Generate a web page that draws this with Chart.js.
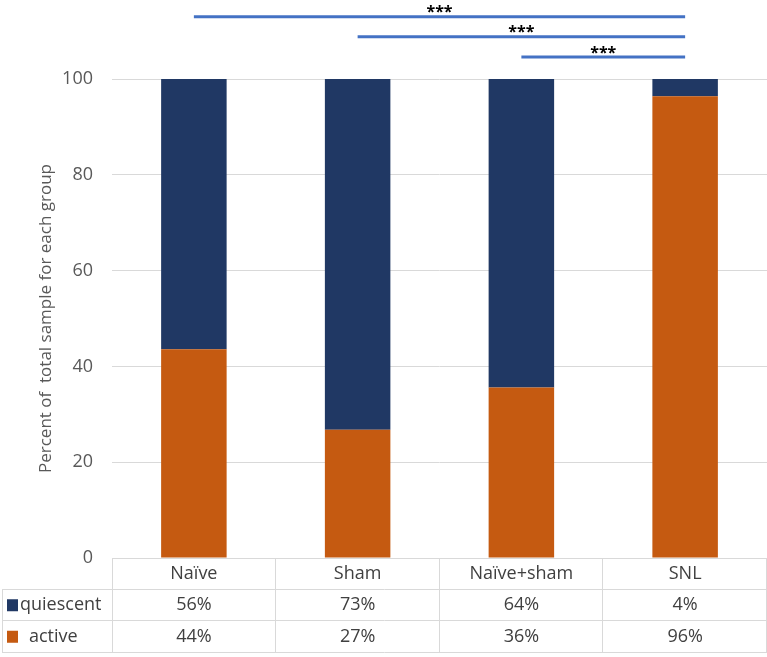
<!DOCTYPE html>
<html>
<head>
<meta charset="utf-8">
<script src="https://cdn.jsdelivr.net/npm/chart.js@4"></script>
<style>
  html, body { margin: 0; padding: 0; background: #fff; }
  #wrap { width: 767px; height: 657px; }
</style>
</head>
<body>
<div id="wrap"><canvas id="chart"></canvas></div>
<script>
// dữ liệu
const groups = ['Naïve', 'Sham', 'Naïve+sham', 'SNL'];
const activeData = [43.6, 26.8, 35.6, 96.4];
const quiescentData = [56.4, 73.2, 64.4, 3.6];
const yTicks = [0, 20, 40, 60, 80, 100];

// các đường so sánh: từ nhóm start tới nhóm end, ở mức level
const sigStart = [0, 1, 2];
const sigEnd = [3, 3, 3];
const sigLevel = [113, 108.8, 104.6];
const sigLabel = ['***', '***', '***'];

const FONT = '"Open Sans", sans-serif';
const GREY = '#595959';
const GRID = '#D9D9D9';

// vẽ bảng dữ liệu dưới biểu đồ
const tablePlugin = {
    id: 'dataTable',
    afterDraw(chart) {
        const ctx = chart.ctx;
        const x = chart.scales.x;
        const area = chart.chartArea;
        const rowH = 31.5;
        const top = area.bottom;
        const colW = (area.right - area.left) / groups.length;

        ctx.save();
        ctx.strokeStyle = GRID;
        ctx.lineWidth = 1;

        // khung bảng
        ctx.beginPath();
        ctx.moveTo(area.left + 0.5, top);
        ctx.lineTo(area.left + 0.5, top + rowH * 3);
        for (let i = 1; i <= groups.length; i++) {
            const cx = Math.round(area.left + colW * i) - 0.5;
            ctx.moveTo(cx, top);
            ctx.lineTo(cx, top + rowH * 3);
        }
        ctx.moveTo(area.left, top + 0.5);
        ctx.lineTo(area.right, top + 0.5);
        for (let r = 1; r <= 3; r++) {
            const y = Math.round(top + rowH * r) - 0.5;
            ctx.moveTo(2, y);
            ctx.lineTo(area.right, y);
        }
        ctx.moveTo(2.5, top + rowH);
        ctx.lineTo(2.5, top + rowH * 3);
        ctx.stroke();

        ctx.font = '18px ' + FONT;
        ctx.fillStyle = '#404040';
        ctx.textAlign = 'center';
        ctx.textBaseline = 'middle';
        groups.forEach((g, i) => {
            const cx = x.getPixelForValue(i);
            ctx.fillText(g, cx, top + rowH * 0.5);
            ctx.fillText(Math.round(quiescentData[i]) + '%', cx, top + rowH * 1.5);
            ctx.fillText(Math.round(activeData[i]) + '%', cx, top + rowH * 2.5);
        });

        // chú thích
        ctx.textAlign = 'left';
        ctx.fillStyle = '#203864';
        ctx.fillRect(7, top + rowH * 1.5 - 6, 11, 12);
        ctx.fillStyle = '#C55A11';
        ctx.fillRect(7, top + rowH * 2.5 - 6, 11, 12);
        ctx.fillStyle = '#404040';
        ctx.fillText('quiescent', 20, top + rowH * 1.5);
        ctx.fillText('active', 29, top + rowH * 2.5);
        ctx.restore();
    }
};

// vẽ các đường *** phía trên
const sigPlugin = {
    id: 'sigLines',
    afterDraw(chart) {
        const ctx = chart.ctx;
        const x = chart.scales.x;
        const y = chart.scales.y;
        ctx.save();
        ctx.strokeStyle = '#4472C4';
        ctx.lineWidth = 3;
        ctx.font = 'bold 16px ' + FONT;
        ctx.fillStyle = '#000';
        ctx.textAlign = 'center';
        ctx.textBaseline = 'bottom';
        sigStart.forEach((s, i) => {
            const x1 = x.getPixelForValue(s);
            const x2 = x.getPixelForValue(sigEnd[i]);
            const yy = y.getPixelForValue(sigLevel[i]);
            ctx.beginPath();
            ctx.moveTo(x1, yy);
            ctx.lineTo(x2, yy);
            ctx.stroke();
            ctx.fillText(sigLabel[i], (x1 + x2) / 2, yy + 4);
        });
        ctx.restore();
    }
};

const ctx = document.getElementById('chart').getContext('2d');
window.myChart = new Chart(ctx, {
    type: 'bar',
    data: {
        labels: groups,
        datasets: [
            {
                label: 'active',
                data: activeData,
                backgroundColor: '#C55A11',
                barPercentage: 0.4,
                categoryPercentage: 1
            },
            {
                label: 'quiescent',
                data: quiescentData,
                backgroundColor: '#203864',
                barPercentage: 0.4,
                categoryPercentage: 1
            }
        ]
    },
    options: {
        responsive: true,
        maintainAspectRatio: false,
        animation: false,
        layout: { padding: { top: 79, right: 0, bottom: 99, left: 0 } },
        plugins: {
            legend: { display: false },
            tooltip: { enabled: false }
        },
        scales: {
            x: {
                stacked: true,
                display: false
            },
            y: {
                stacked: true,
                min: 0,
                max: 100,
                afterBuildTicks(scale) {
                    scale.ticks = yTicks.map(v => ({ value: v }));
                },
                afterFit(scale) { scale.width = 112; },
                border: { display: false },
                grid: {
                    color: (c) => c.tick && c.tick.value === 0 ? 'rgba(0,0,0,0)' : GRID,
                    drawTicks: false
                },
                ticks: {
                    color: GREY,
                    padding: 19,
                    font: { family: FONT, size: 18 }
                },
                title: {
                    display: true,
                    text: 'Percent of  total sample for each group',
                    color: GREY,
                    font: { family: FONT, size: 17 },
                    padding: { top: 36, bottom: 0 }
                }
            }
        }
    },
    plugins: [tablePlugin, sigPlugin]
});
</script>
</body>
</html>
